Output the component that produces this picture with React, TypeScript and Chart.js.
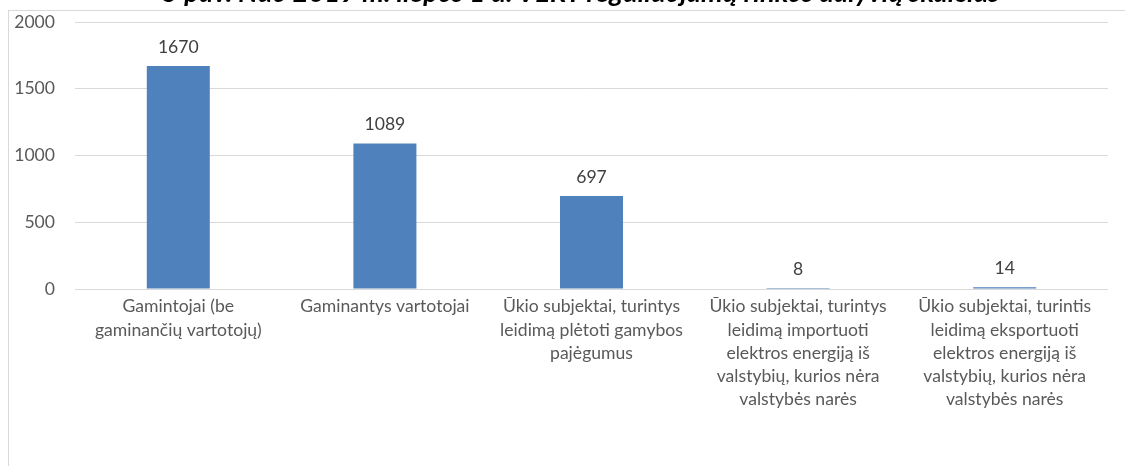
import React, { useEffect, useRef } from "react";
import { Chart, registerables } from "chart.js";

Chart.register(...registerables);

const titleText = "5 pav. Nuo 2019 m. liepos 1 d. VERT reguliuojamų rinkos dalyvių skaičius";

const categories: string[][] = [
  ["Gamintojai (be", "gaminančių vartotojų)"],
  ["Gaminantys vartotojai"],
  ["Ūkio subjektai, turintys", "leidimą plėtoti gamybos", "pajėgumus"],
  ["Ūkio subjektai, turintys", "leidimą importuoti", "elektros energiją iš", "valstybių, kurios nėra", "valstybės narės"],
  ["Ūkio subjektai, turintis", "leidimą eksportuoti", "elektros energiją iš", "valstybių, kurios nėra", "valstybės narės"],
];

const values: number[] = [1670, 1089, 697, 8, 14];

const yMin = 0;
const yMax = 2000;
const yStep = 500;

const FONT = "Lato, 'Open Sans', sans-serif";
const FS = 17.6;

const valueLabels = {
  id: "valueLabels",
  afterDatasetsDraw(chart: any) {
    const ctx = chart.ctx;
    const meta = chart.getDatasetMeta(0);
    ctx.save();
    ctx.font = `${FS}px ${FONT}`;
    ctx.fillStyle = "#404040";
    ctx.textAlign = "center";
    ctx.textBaseline = "middle";
    meta.data.forEach((bar: any, i: number) => {
      ctx.fillText(String(values[i]), bar.x, bar.y - 19);
    });
    ctx.restore();
  },
};

export default function App() {
  const ref = useRef<HTMLCanvasElement | null>(null);

  useEffect(() => {
    if (!ref.current) return;
    const chart = new Chart(ref.current, {
      type: "bar",
      data: {
        labels: categories,
        datasets: [
          {
            data: values,
            backgroundColor: "#4F81BD",
            borderWidth: 0,
            categoryPercentage: 1,
            barPercentage: 0.305,
          },
        ],
      },
      options: {
        responsive: false,
        animation: false,
        layout: { padding: { left: 0, right: 17, top: 22, bottom: 0 } },
        plugins: {
          legend: { display: false },
          tooltip: { enabled: false },
          title: { display: false },
        },
        scales: {
          x: {
            grid: { display: false, drawTicks: false },
            border: { display: false },
            ticks: {
              color: "#595959",
              font: { family: FONT, size: FS, lineHeight: 1.32 },
              padding: 6,
              maxRotation: 0,
              autoSkip: false,
            },
            afterFit(scale: any) {
              scale.height = 177;
            },
          },
          y: {
            min: yMin,
            max: yMax,
            grid: { color: "#d9d9d9", drawTicks: false, lineWidth: 1 },
            border: { display: false },
            ticks: {
              stepSize: yStep,
              color: "#595959",
              font: { family: FONT, size: FS },
              padding: 20,
              callback: (v: any) => String(v),
            },
            afterFit(scale: any) {
              scale.width = 75;
              scale.paddingTop = 0;
              scale.paddingBottom = 0;
            },
          },
        },
      },
      plugins: [valueLabels],
    });
    return () => chart.destroy();
  }, []);

  return (
    <div
      style={{
        position: "fixed",
        left: 0,
        top: 0,
        width: 1125,
        height: 466,
        overflow: "hidden",
        background: "#ffffff",
      }}
    >
      <div
        style={{
          position: "absolute",
          left: 8,
          top: 10,
          width: 1200,
          height: 600,
          border: "1px solid #d9d9d9",
        }}
      />
      <canvas
        ref={ref}
        width={1125}
        height={466}
        style={{ position: "absolute", left: 0, top: 0, width: 1125, height: 466 }}
      />
      <div
        style={{
          position: "absolute",
          left: 0,
          top: -22,
          width: 1162,
          textAlign: "center",
          fontFamily: FONT,
          fontSize: 27.4,
          lineHeight: 1,
          fontWeight: "bold",
          fontStyle: "italic",
          color: "#000000",
          whiteSpace: "nowrap",
        }}
      >
        {titleText}
      </div>
    </div>
  );
}
